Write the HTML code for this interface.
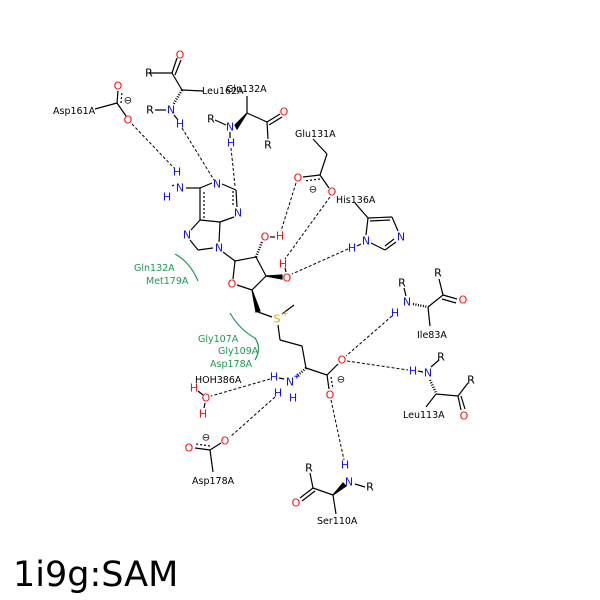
<!DOCTYPE html>
<html><head><meta charset="utf-8"><style>
html,body{margin:0;padding:0;background:#fff;}
svg{display:block;}
text{font-family:"DejaVu Sans","Liberation Sans",sans-serif;}
.l{font-size:9.5px;fill:#000;}
.g{font-size:9.5px;fill:#1a9a50;}
.a{font-size:11px;text-anchor:middle;dominant-baseline:central;}
.N{fill:#1010ff}.O{fill:#ff0d0d}.S{fill:#e8a000}.K{fill:#000}
.b{stroke:#000;stroke-width:1.2;fill:none;}
.d{stroke:#000;stroke-width:1;stroke-dasharray:3,2;fill:none;}
</style></head><body>
<svg width="600" height="600" viewBox="0 0 600 600" xmlns="http://www.w3.org/2000/svg">
<rect width="600" height="600" fill="#fff"/>
<g class="d">
<line x1="132" y1="124" x2="174" y2="168"/>
<line x1="182" y1="128" x2="214" y2="180"/>
<line x1="231" y1="148" x2="235" y2="186"/>
<line x1="296" y1="183" x2="281" y2="231"/>
<line x1="330" y1="197" x2="285" y2="259"/>
<line x1="348" y1="249" x2="292" y2="274"/>
<line x1="392" y1="316" x2="346" y2="356"/>
<line x1="347" y1="361" x2="408" y2="370"/>
<line x1="270" y1="379" x2="211" y2="396"/>
<line x1="275" y1="397" x2="230" y2="437"/>
<line x1="331" y1="400" x2="344" y2="460"/>
</g>
<g class="b">
<line x1="95" y1="109" x2="117" y2="103"/><line x1="117" y1="103" x2="118" y2="91"/><line x1="121" y1="103" x2="122" y2="91" stroke-dasharray="2,2"/><line x1="117" y1="103" x2="126" y2="116"/>
<line x1="149" y1="73" x2="172" y2="73"/><line x1="172" y1="73" x2="177" y2="58"/><line x1="175" y1="75" x2="181" y2="60"/><line x1="172" y1="73" x2="182" y2="90"/><line x1="182" y1="90" x2="203" y2="91"/>
<line x1="155" y1="110" x2="166" y2="110"/><line x1="182" y1="90" x2="173" y2="105" stroke-dasharray="1,1.5" stroke-width="2.5"/><line x1="174" y1="115" x2="178" y2="120"/>
<line x1="247" y1="96" x2="247" y2="113"/><line x1="247" y1="113" x2="267" y2="122"/><line x1="267" y1="122" x2="280" y2="114"/><line x1="269" y1="125" x2="282" y2="117"/><line x1="267" y1="122" x2="268" y2="139"/>
<line x1="215" y1="120" x2="226" y2="125"/><polygon points="247,113 235,125 237,129" fill="#000"/>
<line x1="230" y1="132" x2="230" y2="138"/>
<line x1="186" y1="188" x2="200" y2="188"/><line x1="174" y1="185" x2="172" y2="186"/>
<line x1="200" y1="188" x2="212" y2="183"/><line x1="222" y1="184" x2="236" y2="190"/><line x1="236" y1="190" x2="237" y2="207"/><line x1="233" y1="191" x2="233" y2="205" stroke-dasharray="2,2"/>
<line x1="234" y1="217" x2="220" y2="222"/><line x1="220" y1="222" x2="200" y2="220"/><line x1="200" y1="220" x2="200" y2="188"/><line x1="204" y1="218" x2="204" y2="191" stroke-dasharray="2,2"/>
<line x1="200" y1="220" x2="191" y2="230"/><line x1="190" y1="240" x2="198" y2="250"/><line x1="198" y1="250" x2="213" y2="248"/><line x1="220" y1="222" x2="219" y2="242"/>
<line x1="223" y1="252" x2="235" y2="261"/>
<line x1="235" y1="261" x2="256" y2="257"/><line x1="256" y1="257" x2="266" y2="276"/><line x1="266" y1="276" x2="252" y2="290"/><line x1="252" y1="290" x2="237" y2="285"/><line x1="235" y1="261" x2="233" y2="279"/>
<line x1="256" y1="257" x2="262" y2="242" stroke-dasharray="1,1.5" stroke-width="2.5"/>
<line x1="270" y1="237" x2="275" y2="237"/><line x1="285" y1="268" x2="286" y2="272"/>
<polygon points="266,276 282,275 282,279" fill="#000"/>
<polygon points="252,290 256,312 260,311" fill="#000"/>
<line x1="258" y1="312" x2="272" y2="317"/><line x1="282" y1="314" x2="294" y2="305"/>
<line x1="278" y1="325" x2="280" y2="340"/><line x1="280" y1="340" x2="302" y2="346"/><line x1="302" y1="346" x2="306" y2="368"/><line x1="306" y1="368" x2="327" y2="375"/>
<line x1="327" y1="375" x2="338" y2="364"/><line x1="327" y1="375" x2="329" y2="389"/><line x1="331" y1="377" x2="333" y2="389" stroke-dasharray="2,2"/>
<line x1="306" y1="368" x2="296" y2="377" stroke-dasharray="1,1.5" stroke-width="2.5"/>
<line x1="279" y1="378" x2="284" y2="379"/>
<line x1="198" y1="391" x2="203" y2="395"/><line x1="205" y1="403" x2="204" y2="408"/>
<line x1="210" y1="450" x2="221" y2="443"/><line x1="210" y1="450" x2="195" y2="448"/><line x1="210" y1="446" x2="196" y2="444" stroke-dasharray="2,2"/><line x1="210" y1="450" x2="213" y2="472"/>
<line x1="313" y1="488" x2="333" y2="495"/><line x1="313" y1="488" x2="310" y2="473"/><line x1="313" y1="488" x2="300" y2="498"/><line x1="315" y1="491" x2="302" y2="501"/><line x1="333" y1="495" x2="336" y2="514"/><line x1="355" y1="484" x2="365" y2="487"/>
<polygon points="333,495 343,483 346,486" fill="#000"/>
<line x1="418" y1="371" x2="423" y2="372"/>
<line x1="431" y1="367" x2="439" y2="360"/><line x1="430" y1="380" x2="436" y2="393" stroke-dasharray="1,1.5" stroke-width="2.5"/><line x1="436" y1="394" x2="458" y2="396"/><line x1="458" y1="396" x2="468" y2="383"/><line x1="458" y1="396" x2="461" y2="410"/><line x1="461" y1="396" x2="465" y2="409"/><line x1="436" y1="394" x2="426" y2="407"/>
<line x1="404" y1="288" x2="406" y2="296"/><line x1="413" y1="304" x2="428" y2="307" stroke-dasharray="1,1.5" stroke-width="2.5"/><line x1="428" y1="307" x2="443" y2="295"/><line x1="443" y1="295" x2="439" y2="279"/><line x1="443" y1="295" x2="457" y2="299"/><line x1="442" y1="299" x2="456" y2="303"/><line x1="428" y1="307" x2="430" y2="326"/>
<line x1="355" y1="203" x2="368" y2="218"/><line x1="368" y1="218" x2="392" y2="217"/><line x1="370" y1="221" x2="390" y2="220"/><line x1="392" y1="217" x2="398" y2="231"/><line x1="396" y1="242" x2="385" y2="250"/><line x1="394" y1="239" x2="385" y2="246"/><line x1="385" y1="250" x2="371" y2="243"/><line x1="368" y1="218" x2="366" y2="235"/>
<line x1="357" y1="246" x2="361" y2="244"/>
<line x1="313" y1="139" x2="327" y2="154"/><line x1="327" y1="154" x2="320" y2="175"/><line x1="320" y1="175" x2="303" y2="177"/><line x1="320" y1="179" x2="304" y2="181" stroke-dasharray="2,2"/><line x1="320" y1="175" x2="329" y2="188"/>
</g>
<path d="M175,254 Q190,262 198,281" stroke="#1a9a50" stroke-width="1.2" fill="none"/>
<path d="M230,313 Q240,330 255,338 Q262,348 255,360" stroke="#1a9a50" stroke-width="1.2" fill="none"/>
<g class="a">
<text x="128" y="101" class="K" font-size="10">⊖</text>
<text x="118" y="86" class="O">O</text><text x="128" y="120" class="O">O</text>
<text x="149" y="73" class="K">R</text><text x="180" y="55" class="O">O</text>
<text x="150" y="110" class="K">R</text><text x="171" y="110" class="N">N</text><text x="180" y="124" class="N">H</text>
<text x="211" y="119" class="K">R</text><text x="230" y="127" class="N">N</text><text x="231" y="143" class="N">H</text><text x="284" y="112" class="O">O</text><text x="268" y="145" class="K">R</text>
<text x="177" y="172" class="N">H</text><text x="180" y="188" class="N">N</text><text x="167" y="197" class="N">H</text>
<text x="217" y="184" class="N">N</text><text x="238" y="213" class="N">N</text><text x="187" y="235" class="N">N</text><text x="219" y="248" class="N">N</text>
<text x="265" y="237" class="O">O</text><text x="280" y="236" class="O">H</text>
<text x="283" y="264" class="O">H</text><text x="287" y="278" class="O">O</text>
<text x="232" y="284" class="O">O</text>
<text x="277" y="319" class="S">S</text><text x="285" y="314" class="S" font-size="9">+</text>
<text x="342" y="360" class="O">O</text><text x="330" y="395" class="O">O</text><text x="341" y="380" class="K" font-size="10">⊖</text>
<text x="274" y="377" class="N">H</text><text x="290" y="382" class="N">N</text><text x="297" y="377" class="N" font-size="9">+</text><text x="278" y="393" class="N">H</text><text x="293" y="398" class="N">H</text>
<text x="194" y="388" class="O">H</text><text x="206" y="398" class="O">O</text><text x="203" y="414" class="O">H</text>
<text x="225" y="441" class="O">O</text><text x="189" y="448" class="O">O</text><text x="206" y="438" class="K" font-size="10">⊖</text>
<text x="345" y="465" class="N">H</text><text x="349" y="482" class="N">N</text><text x="370" y="487" class="K">R</text><text x="309" y="468" class="K">R</text><text x="296" y="503" class="O">O</text>
<text x="413" y="371" class="N">H</text><text x="428" y="373" class="N">N</text><text x="441" y="357" class="K">R</text><text x="471" y="380" class="K">R</text><text x="464" y="416" class="O">O</text>
<text x="395" y="313" class="N">H</text><text x="407" y="302" class="N">N</text><text x="402" y="283" class="K">R</text><text x="438" y="273" class="K">R</text><text x="463" y="300" class="O">O</text>
<text x="366" y="241" class="N">N</text><text x="401" y="237" class="N">N</text><text x="352" y="248" class="N">H</text>
<text x="298" y="178" class="O">O</text><text x="332" y="192" class="O">O</text><text x="313" y="190" class="K" font-size="10">⊖</text>
</g>
<text x="53" y="114" class="l">Asp161A</text>
<text x="202" y="94" class="l">Leu162A</text>
<text x="226" y="92" class="l">Gln132A</text>
<text x="295" y="137" class="l">Glu131A</text>
<text x="336" y="203" class="l">His136A</text>
<text x="417" y="338" class="l">Ile83A</text>
<text x="403" y="418" class="l">Leu113A</text>
<text x="317" y="524" class="l">Ser110A</text>
<text x="192" y="484" class="l">Asp178A</text>
<text x="195" y="383" class="l">HOH386A</text>
<text x="134" y="271" class="g">Gln132A</text>
<text x="146" y="284" class="g">Met179A</text>
<text x="198" y="342" class="g">Gly107A</text>
<text x="218" y="354" class="g">Gly109A</text>
<text x="210" y="367" class="g">Asp178A</text>
<text x="13" y="586" font-size="35" fill="#000" font-family="'DejaVu Sans','Liberation Sans',sans-serif">1i9g:SAM</text>
</svg>
</body></html>
